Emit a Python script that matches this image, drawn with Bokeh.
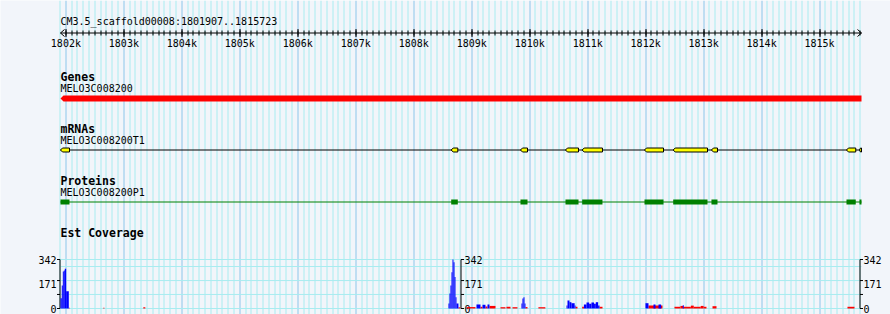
import math
from bokeh.plotting import figure
from bokeh.models import Range1d
from bokeh.core.properties import value
from bokeh.embed import file_html
from bokeh.resources import INLINE

# ---------------- data ----------------
TITLE = "CM3.5_scaffold00008:1801907..1815723"
VIEW_START = 1801907
VIEW_END = 1815723

TICK_POS = [1802000, 1803000, 1804000, 1805000, 1806000, 1807000, 1808000,
            1809000, 1810000, 1811000, 1812000, 1813000, 1814000, 1815000]
TICK_LABELS = ["1802k", "1803k", "1804k", "1805k", "1806k", "1807k", "1808k",
               "1809k", "1810k", "1811k", "1812k", "1813k", "1814k", "1815k"]

TRACK_TITLES = ["Genes", "mRNAs", "Proteins", "Est Coverage"]
GENE_NAME = "MELO3C008200"
GENE_START = 1801907
GENE_END = 1815723
MRNA_NAME = "MELO3C008200T1"
PROT_NAME = "MELO3C008200P1"

EXON_STARTS = [1801907, 1808646, 1809841, 1810617, 1810905, 1811980, 1812475, 1813135, 1815464, 1815688]
EXON_ENDS = [1802062, 1808760, 1809962, 1810842, 1811255, 1812308, 1813067, 1813239, 1815624, 1815723]

COV_MAX = 342
COV_LABELS = [0, 171, 342]
COV_TICKS = [0, 98, 195, 342]
COV_GRID = [0, 98, 195, 293, 342]

BLUE_START = [1801907, 1801929, 1801947, 1801964, 1801981, 1802005,
              1808599, 1808616, 1808633, 1808651, 1808668, 1808685, 1808703, 1808720, 1808737,
              1809082, 1809186, 1809272,
              1809858, 1809875, 1809893, 1809910,
              1810635, 1810652, 1810686, 1810720, 1810775,
              1810935, 1810980, 1811025, 1811065, 1811110, 1811140, 1811180,
              1811997, 1812135, 1812221, 1812640]
BLUE_END = [1801929, 1801947, 1801964, 1801981, 1802005, 1802050,
            1808616, 1808633, 1808651, 1808668, 1808685, 1808703, 1808720, 1808737, 1808771,
            1809151, 1809237, 1809306,
            1809875, 1809893, 1809910, 1809927,
            1810652, 1810686, 1810720, 1810775, 1810790,
            1810980, 1811025, 1811065, 1811110, 1811140, 1811180, 1811204,
            1812049, 1812170, 1812267, 1812657]
BLUE_VAL = [72, 160, 258, 265, 277, 121,
            35, 105, 160, 253, 342, 323, 219, 79, 35,
            28, 26, 28,
            35, 70, 79, 35,
            21, 56, 44, 37, 21,
            28, 42, 33, 42, 33, 44, 21,
            37, 28, 28, 22]

RED_START = [1802050, 1802645, 1803335, 1808771, 1808910, 1809151, 1809237, 1809306,
             1809496, 1809599, 1809703, 1809927, 1810150, 1810790, 1810905, 1811204,
             1812049, 1812497, 1812600, 1812650, 1812780, 1812830, 1812950, 1813000,
             1813153, 1815481]
RED_END = [1802065, 1802665, 1803370, 1808805, 1809065, 1809186, 1809272, 1809410,
           1809582, 1809669, 1809789, 1809962, 1810270, 1810824, 1810935, 1811256,
           1812290, 1812600, 1812650, 1812780, 1812830, 1812950, 1813000, 1813049,
           1813222, 1815602]
RED_VAL = [6, 6, 8, 8, 10, 12, 14, 18,
           9, 12, 9, 10, 9, 12, 12, 12,
           21, 12, 18, 12, 20, 12, 18, 12,
           16, 12]

# ---------------- layout / style ----------------
W, H = 890, 314
PANEL_LEFT_PX, PANEL_PX = 60, 801
BPX = (VIEW_END - VIEW_START) / PANEL_PX          # bp per pixel
X0 = VIEW_START - PANEL_LEFT_PX * BPX
X1 = X0 + W * BPX


def crisp(x):
    """Nudge a genomic position to the centre of its screen pixel (sharp 1px lines)."""
    return X0 + (math.floor((x - X0) / BPX) + 0.5) * BPX


BG = "#f2f5fa"
MINOR = "#a8ecf0"
MAJOR = "#8cc6ea"
FONT = value("DejaVu Sans Mono")

COV_BASE_PX, COV_TOP_PX = 308, 259
cov_per_px = COV_MAX / (COV_BASE_PX - COV_TOP_PX)
COV_LO = -(H - COV_BASE_PX) * cov_per_px
COV_HI = COV_BASE_PX * cov_per_px

p = figure(width=W, height=H, x_range=Range1d(X0, X1), y_range=Range1d(H, 0),
           output_backend="svg", toolbar_location=None, min_border=0,
           x_axis_location=None, y_axis_location=None,
           background_fill_color=BG, border_fill_color=BG, outline_line_color=None)
p.grid.visible = False
p.extra_y_ranges = {"cov": Range1d(COV_LO, COV_HI)}

# vertical grid (every 100 bp inside the view; darker every 1 kb)
first = (VIEW_START // 100) * 100
grid_all = [x for x in range(first, VIEW_END + 1, 100)]
minor_x = [crisp(x) for x in grid_all if x % 1000 != 0]
major_x = [crisp(x) for x in grid_all if x % 1000 == 0]
p.segment(x0=minor_x, x1=minor_x, y0=[0] * len(minor_x), y1=[H] * len(minor_x),
          line_color=MINOR, line_width=1)
p.segment(x0=major_x, x1=major_x, y0=[0] * len(major_x), y1=[H] * len(major_x),
          line_color=MAJOR, line_width=1)

# coverage horizontal grid
p.segment(x0=[VIEW_START] * len(COV_GRID), x1=[VIEW_END] * len(COV_GRID),
          y0=COV_GRID, y1=COV_GRID, y_range_name="cov", line_color=MINOR, line_width=1)

# ruler
RY = 32.5
p.text(x=[VIEW_START], y=[21], text=[TITLE], text_font=FONT, text_font_size="10px",
       text_baseline="middle", text_align="left", text_color="black")
p.segment(x0=[VIEW_START], x1=[VIEW_END], y0=[RY], y1=[RY], line_color="black")
rt = [crisp(x) for x in range(1802000, VIEW_END, 100)]
p.segment(x0=rt, x1=rt, y0=[RY - 2.5] * len(rt), y1=[RY + 2.5] * len(rt), line_color="black")
mt_ = [crisp(x) for x in TICK_POS]
p.segment(x0=mt_, x1=mt_, y0=[RY - 4] * len(mt_), y1=[RY + 4] * len(mt_),
          line_color="black")
a = 4 * BPX
p.segment(x0=[VIEW_START, VIEW_START, VIEW_END, VIEW_END],
          y0=[RY] * 4,
          x1=[VIEW_START + a, VIEW_START + a, VIEW_END - a, VIEW_END - a],
          y1=[RY - 3.5, RY + 3.5, RY - 3.5, RY + 3.5], line_color="black")
p.text(x=TICK_POS, y=[43] * len(TICK_POS), text=TICK_LABELS, text_font=FONT,
       text_font_size="10px", text_baseline="middle", text_align="center", text_color="black")

# track titles
p.text(x=[VIEW_START] * 4, y=[76, 128, 180, 232], text=TRACK_TITLES, text_font=FONT,
       text_font_size="11.5px", text_font_style="bold", text_baseline="middle",
       text_align="left", text_color="black")
p.text(x=[VIEW_START] * 3, y=[88, 140, 191.5], text=[GENE_NAME, MRNA_NAME, PROT_NAME],
       text_font=FONT, text_font_size="10px", text_baseline="middle", text_align="left",
       text_color="black")

# gene (minus strand arrow)
gt, gb = 95, 101
tip = 3 * BPX
p.patch(x=[GENE_START, GENE_START + tip, GENE_END, GENE_END, GENE_START + tip],
        y=[(gt + gb) / 2, gt, gt, gb, gb], fill_color="#ff0000", line_color=None)

# mRNA
MY, mt, mb = 149.5, 147.5, 151.5
p.segment(x0=[VIEW_START], x1=[VIEW_END], y0=[MY], y1=[MY], line_color="black", line_width=1)
xs, ys = [], []
for s, e in zip(EXON_STARTS, EXON_ENDS):
    t = min(2 * BPX, (e - s) * 0.5)
    xs.append([s, s + t, e, e, s + t])
    ys.append([MY, mt, mt, mb, mb])
p.patches(xs=xs, ys=ys, fill_color="#ffff00", line_color="black", line_width=1)

# protein
PY, pt, pb = 201.5, 199, 204
p.segment(x0=[VIEW_START], x1=[VIEW_END], y0=[PY], y1=[PY], line_color="#008000", line_width=1)
p.quad(left=EXON_STARTS, right=EXON_ENDS, top=[pt] * len(EXON_STARTS),
       bottom=[pb] * len(EXON_STARTS), fill_color="#008000", line_color=None)

# coverage axes
mid = crisp((VIEW_START + VIEW_END) / 2)
tk = 3 * BPX
for ax, side in [(crisp(VIEW_START), -1), (mid, 1), (crisp(VIEW_END) - BPX, 1)]:
    p.segment(x0=[ax], x1=[ax], y0=[0], y1=[COV_MAX], y_range_name="cov", line_color="black")
    p.segment(x0=[ax] * len(COV_TICKS), x1=[ax + side * tk] * len(COV_TICKS),
              y0=COV_TICKS, y1=COV_TICKS, y_range_name="cov", line_color="black")
    p.text(x=[ax + side * 3.5 * BPX] * 3, y=COV_LABELS, text=[str(v) for v in COV_LABELS],
           y_range_name="cov", text_font=FONT, text_font_size="10px", text_baseline="middle",
           text_align="right" if side < 0 else "left", text_color="black")

# coverage data
p.quad(left=RED_START, right=RED_END, bottom=[0] * len(RED_VAL), top=RED_VAL,
       y_range_name="cov", fill_color="#ff0000", line_color=None)
p.quad(left=BLUE_START, right=BLUE_END, bottom=[0] * len(BLUE_VAL), top=BLUE_VAL,
       y_range_name="cov", fill_color="#0000ff", line_color=None)

open("out.html", "w").write(file_html(p, INLINE))
